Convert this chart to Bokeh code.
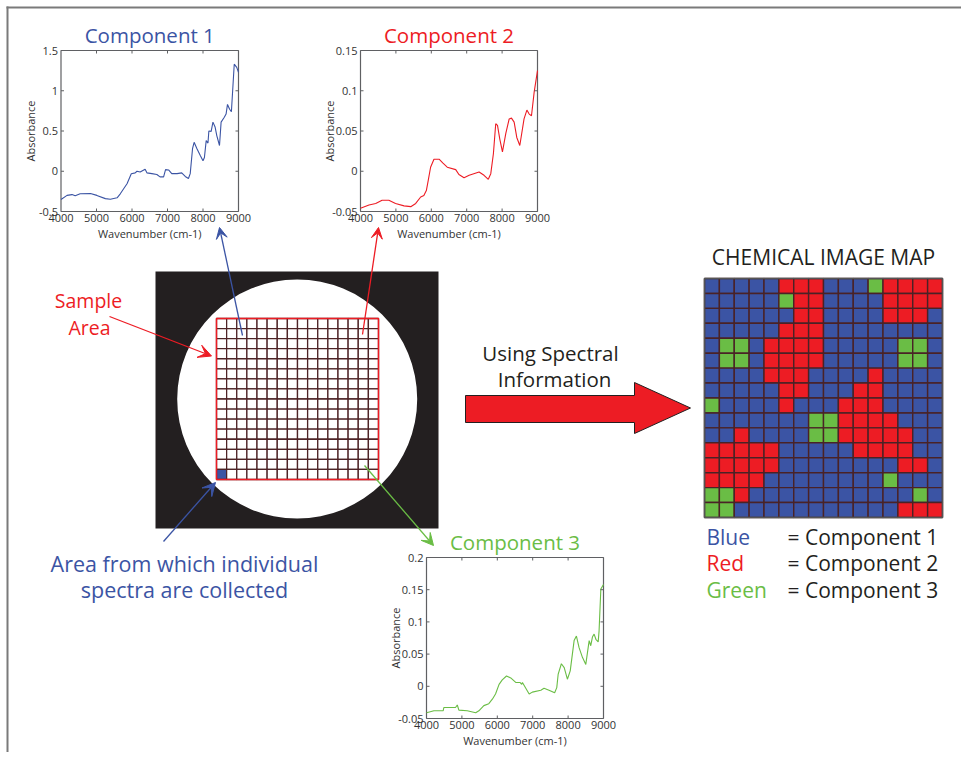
import numpy as np
from bokeh.plotting import figure
from bokeh.models import Range1d, Arrow, VeeHead
from bokeh.core.properties import value
from bokeh.embed import file_html
from bokeh.resources import INLINE

# ---------------- data ----------------
x_ticks = [4000, 5000, 6000, 7000, 8000, 9000]
x_tick_labels = ["4000", "5000", "6000", "7000", "8000", "9000"]

c1_wn = [4000, 4170, 4310, 4400, 4540, 4830, 5010, 5250, 5390, 5580, 5670, 5760, 5860, 5980, 6090,
         6140, 6230, 6370, 6420, 6560, 6700, 6790, 6890, 6945, 7030, 7120, 7270, 7400, 7500, 7590,
         7640, 7705, 7750, 7830, 7920, 8000, 8040, 8090, 8140, 8165, 8230, 8280, 8340, 8390, 8465,
         8510, 8600, 8650, 8690, 8750, 8800, 8880, 8950, 9000]
c1_abs = [-0.35, -0.30, -0.29, -0.305, -0.28, -0.276, -0.30, -0.34, -0.347, -0.33, -0.28, -0.22, -0.156, -0.03, -0.02,
          0.0, -0.01, 0.026, -0.02, -0.03, -0.04, -0.07, -0.07, 0.02, 0.016, -0.03, -0.03, -0.02, -0.065, -0.09,
          -0.03, 0.28, 0.36, 0.28, 0.20, 0.13, 0.17, 0.38, 0.35, 0.50, 0.495, 0.61, 0.55, 0.44, 0.32,
          0.61, 0.67, 0.71, 0.83, 0.77, 0.74, 1.33, 1.29, 1.23]
c1_ylim = [-0.5, 1.5]
c1_yticks = [-0.5, 0, 0.5, 1, 1.5]
c1_ylabels = ["-0.5", "0", "0.5", "1", "1.5"]

c2_wn = [4000, 4240, 4430, 4610, 4800, 4990, 5230, 5420, 5560, 5700, 5790, 5860, 5915, 5980, 6075,
         6220, 6330, 6450, 6690, 6780, 6925, 7070, 7350, 7490, 7610, 7680, 7755, 7820, 7870, 7935,
         8010, 8105, 8200, 8265, 8340, 8415, 8500, 8620, 8700, 8765, 8830, 8905, 9000]
c2_abs = [-0.046, -0.042, -0.040, -0.036, -0.036, -0.040, -0.043, -0.044, -0.040, -0.032, -0.030, -0.024, -0.011, 0.005, 0.015,
          0.015, 0.010, 0.005, 0.002, -0.004, -0.008, -0.005, -0.001, -0.005, -0.010, -0.003, 0.022, 0.059, 0.057, 0.040,
          0.024, 0.047, 0.065, 0.066, 0.061, 0.042, 0.032, 0.065, 0.076, 0.071, 0.069, 0.098, 0.125]
c2_ylim = [-0.05, 0.15]
c2_yticks = [-0.05, 0, 0.05, 0.1, 0.15]
c2_ylabels = ["-0.05", "0", "0.05", "0.1", "0.15"]

c3_wn = [4000, 4210, 4470, 4490, 4820, 4870, 4915, 5150, 5390, 5480, 5620, 5760, 5860, 5950, 6050,
         6140, 6260, 6380, 6520, 6640, 6690, 6710, 6900, 6990, 7230, 7320, 7460, 7620, 7680, 7720,
         7810, 7890, 7980, 8060, 8170, 8235, 8310, 8405, 8500, 8595, 8640, 8690, 8735, 8785, 8850,
         8875, 8925, 9000]
c3_abs = [-0.041, -0.038, -0.038, -0.033, -0.033, -0.029, -0.037, -0.038, -0.041, -0.038, -0.030, -0.027, -0.020, -0.012, 0.003,
          0.010, 0.016, 0.013, 0.006, 0.006, 0.003, 0.006, -0.012, -0.009, -0.006, -0.003, -0.006, -0.010, -0.002, 0.019,
          0.035, 0.029, 0.011, 0.024, 0.071, 0.078, 0.060, 0.045, 0.034, 0.071, 0.063, 0.077, 0.081, 0.073, 0.069,
          0.086, 0.151, 0.158]
c3_ylim = [-0.05, 0.2]
c3_yticks = [-0.05, 0, 0.05, 0.1, 0.15, 0.2]
c3_ylabels = ["-0.05", "0", "0.05", "0.1", "0.15", "0.2"]

# chemical image map: B = component 1, R = component 2, G = component 3
map_rows = [
    "BBBBBRRRBBBGRRRR",
    "BBBBBGRRBBBBRRRR",
    "BBBBBBRRBBBBRRRB",
    "BBBBBRRRBBBBBBBB",
    "BGGBRRRRBBBBBGGB",
    "BGGBRRRRBBBBBGGB",
    "BBBBRRRBBBBRBBBB",
    "BBBBBRRBBBRRBBBB",
    "GBBBBRBBBRRRBBBB",
    "BBBBBBBGGRRRRBBB",
    "BBRBBBBGGRRRRRBB",
    "RRRRRBBBBBRRRRBB",
    "RRRRRBBBBBBBBRRB",
    "RRRRBBBBBBBBGBBB",
    "GGRBBBBBBBBBBBGB",
    "GGBBBBBBBBBBBRRR",
]
legend_names = ["Blue", "Red", "Green"]
legend_labels = ["= Component 1", "= Component 2", "= Component 3"]
titles = ["Component 1", "Component 2", "Component 3"]

# ---------------- styles ----------------
BLUE = "#3b54a4"
RED = "#ed1c24"
GREEN = "#6abd45"
DARK = "#231f20"
AX = "#5f6063"
TXT = "#333333"
FONT = value("Open Sans")
COLMAP = {"B": BLUE, "R": RED, "G": GREEN}

W, H = 961, 752
p = figure(width=W, height=H, x_range=Range1d(0, W), y_range=Range1d(0, H),
           output_backend="svg", toolbar_location=None, min_border=0,
           x_axis_location=None, y_axis_location=None)
p.grid.visible = False
p.outline_line_color = None
p.background_fill_color = "white"


def fy(v):
    return H - v


# page frame (left and top edges)
p.segment(x0=[7, 6], y0=[fy(6), fy(7)], x1=[7, W], y1=[fy(H), fy(7)], line_color="#7a7a7a", line_width=2)


def panel(wn, ab, ylim, yt, yl, color, title, x0, x1, ytop, ybot):
    s = p.subplot(x_source=Range1d(x_ticks[0], x_ticks[-1]), y_source=Range1d(ylim[0], ylim[1]),
                  x_target=Range1d(x0, x1), y_target=Range1d(fy(ybot), fy(ytop)))
    xa, xb = x_ticks[0], x_ticks[-1]
    s.quad(left=[xa], right=[xb], bottom=[ylim[0]], top=[ylim[1]], fill_color="white",
           line_color=AX, line_width=1.2)
    s.line(wn, ab, line_color=color, line_width=1.1)
    ix = x_ticks[1:-1]
    iy = yt[1:-1]
    s.ray(x=ix, y=[ylim[0]] * len(ix), length=3, length_units="screen", angle=np.pi / 2, line_color=AX)
    s.ray(x=ix, y=[ylim[1]] * len(ix), length=3, length_units="screen", angle=-np.pi / 2, line_color=AX)
    s.ray(x=[xa] * len(iy), y=iy, length=3, length_units="screen", angle=0, line_color=AX)
    s.ray(x=[xb] * len(iy), y=iy, length=3, length_units="screen", angle=np.pi, line_color=AX)
    s.text(x=x_ticks, y=[ylim[0]] * len(x_ticks), text=x_tick_labels, text_align="center",
           text_baseline="top", y_offset=2, text_font=FONT, text_font_size="11px", text_color=TXT)
    s.text(x=[xa] * len(yt), y=yt, text=yl, text_align="right", text_baseline="middle",
           x_offset=-3, text_font=FONT, text_font_size="11px", text_color=TXT)
    s.text(x=[(xa + xb) / 2], y=[ylim[0]], text=["Wavenumber (cm-1)"], text_align="center",
           text_baseline="middle", y_offset=22, text_font=FONT, text_font_size="11px", text_color=TXT)
    s.text(x=[xa], y=[(ylim[0] + ylim[1]) / 2], text=["Absorbance"], text_align="center",
           text_baseline="middle", x_offset=-31, angle=np.pi / 2, text_font=FONT,
           text_font_size="11px", text_color=TXT)
    s.text(x=[(xa + xb) / 2], y=[ylim[1]], text=[title], text_align="center", text_baseline="middle",
           y_offset=-16, text_font=FONT, text_font_size="20.5px", text_color=color)


panel(c1_wn, c1_abs, c1_ylim, c1_yticks, c1_ylabels, BLUE, titles[0], 60.5, 238, 50, 211)
panel(c2_wn, c2_abs, c2_ylim, c2_yticks, c2_ylabels, RED, titles[1], 360, 537, 50, 211)
panel(c3_wn, c3_abs, c3_ylim, c3_yticks, c3_ylabels, GREEN, titles[2], 426, 603, 557, 718)

# ---------------- sample image ----------------
p.quad(left=[155], right=[438], top=[fy(271)], bottom=[fy(528)], fill_color=DARK, line_color=None)
p.ellipse(x=[296.7], y=[fy(398.5)], width=[240], height=[239], fill_color="white", line_color=None)

n = len(map_rows)
cols = [c for r in range(n) for c in range(n)]
rows = [r for r in range(n) for c in range(n)]

sg = p.subplot(x_source=Range1d(0, n), y_source=Range1d(n, 0),
               x_target=Range1d(216, 378), y_target=Range1d(fy(479), fy(318)))
sample_fill = ["white"] * len(cols)
sample_fill[(n - 1) * n] = BLUE
sg.quad(left=cols, right=[c + 1 for c in cols], top=rows, bottom=[r + 1 for r in rows],
        fill_color=sample_fill, line_color="#4e2427", line_width=1.3)
sg.quad(left=[0], right=[n], top=[0], bottom=[n], fill_color=None, line_color=RED, line_width=1.5)

# ---------------- chemical image map ----------------
mg = p.subplot(x_source=Range1d(0, n), y_source=Range1d(n, 0),
               x_target=Range1d(704, 942), y_target=Range1d(fy(517), fy(278)))
map_fill = [COLMAP[map_rows[r][c]] for r, c in zip(rows, cols)]
mg.quad(left=cols, right=[c + 1 for c in cols], top=rows, bottom=[r + 1 for r in rows],
        fill_color=map_fill, line_color="#4a2226", line_width=1.4)
mg.quad(left=[0], right=[n], top=[0], bottom=[n], fill_color=None, line_color="#555555", line_width=1.5)

# ---------------- big arrow ----------------
p.patch(x=[465, 634, 634, 690, 634, 634, 465],
        y=[fy(395), fy(395), fy(382), fy(407.5), fy(433), fy(422), fy(422)],
        fill_color=RED, line_color=DARK, line_width=1)

# ---------------- thin arrows ----------------
def arrow(xs, ys, xe, ye, color, size=11):
    p.add_layout(Arrow(x_start=xs, y_start=fy(ys), x_end=xe, y_end=fy(ye), line_color=color,
                       line_width=1.3,
                       end=VeeHead(size=size, fill_color=color, line_color=color, line_width=1)))


arrow(242, 335, 219, 227, BLUE)
arrow(362, 334, 378, 227, RED)
arrow(109, 316, 211, 355.5, RED, 13)
arrow(163, 541, 215, 482, BLUE, 13)
arrow(364, 465, 433, 545, GREEN, 12)

# ---------------- texts ----------------
def txt(x, y, t, color, size="20px", align="center"):
    p.text(x=[x], y=[fy(y)], text=[t], text_align=align, text_baseline="middle",
           text_font=FONT, text_font_size=size, text_color=color)


txt(88, 300, "Sample", RED, "19.5px")
txt(89, 327, "Area", RED, "19.5px")
txt(550, 352, "Using Spectral", DARK, "20.5px")
txt(554, 378, "Information", DARK, "20.5px")
txt(823, 256, "CHEMICAL IMAGE MAP", DARK, "21px")
txt(184, 563, "Area from which individual", BLUE, "21.5px")
txt(184, 589, "spectra are collected", BLUE, "21.5px")

leg_colors = [BLUE, RED, GREEN]
leg_y = [536, 562, 589]
p.text(x=[706] * 3, y=[fy(v) for v in leg_y], text=legend_names, text_align="left",
       text_baseline="middle", text_font=FONT, text_font_size="21px", text_color=leg_colors)
p.text(x=[787] * 3, y=[fy(v) for v in leg_y], text=legend_labels, text_align="left",
       text_baseline="middle", text_font=FONT, text_font_size="21px", text_color=DARK)

open("out.html", "w").write(file_html(p, INLINE))
